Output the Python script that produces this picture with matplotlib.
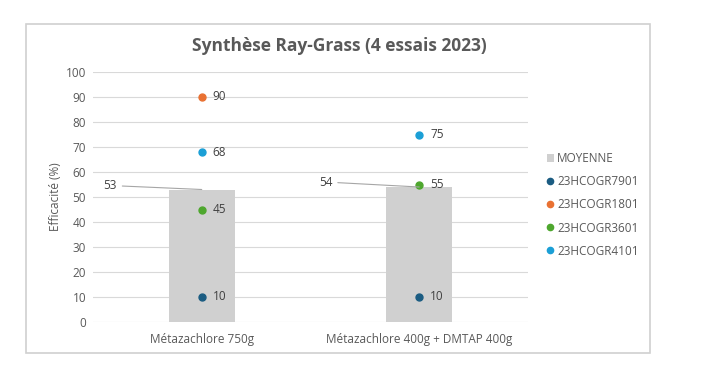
import matplotlib.pyplot as plt
from matplotlib.patches import Rectangle

plt.rcParams['font.family'] = ['Open Sans', 'DejaVu Sans']

categories = ['Métazachlore 750g', 'Métazachlore 400g + DMTAP 400g']
moyenne = [53, 54]
essais = ['23HCOGR7901', '23HCOGR1801', '23HCOGR3601', '23HCOGR4101']
valeurs = {
    '23HCOGR7901': [10, 10],
    '23HCOGR1801': [90, None],
    '23HCOGR3601': [45, 55],
    '23HCOGR4101': [68, 75],
}
couleurs = {
    '23HCOGR7901': '#1B5C82',
    '23HCOGR1801': '#E97132',
    '23HCOGR3601': '#4EA72E',
    '23HCOGR4101': '#1B9FD6',
}

fig = plt.figure(figsize=(7.09, 3.79), dpi=100)
# cadre du graphique
fig.patches.append(Rectangle((26 / 709, 1 - 353 / 379), 624 / 709, 329 / 379,
                             transform=fig.transFigure, fill=False,
                             edgecolor='#D0D0D0', linewidth=1.2))

ax = fig.add_axes([93 / 709, 1 - 322 / 379, 435 / 709, 250 / 379])
x = list(range(len(categories)))

ax.bar(x, moyenne, width=66 / 217.5, color='#D0D0D0', label='MOYENNE', zorder=2)

# étiquettes de la moyenne avec ligne de rappel
decal = [(-85, 4), (-87, 5)]
for i, m in enumerate(moyenne):
    ax.annotate(str(m), xy=(i, m), xytext=decal[i], textcoords='offset pixels',
                ha='right', va='center', fontsize=8.5, color='#404040',
                arrowprops=dict(arrowstyle='-', color='#A6A6A6', lw=0.8,
                                shrinkA=2, shrinkB=0), zorder=4)

for e in essais:
    xs = [i for i, v in zip(x, valeurs[e]) if v is not None]
    ys = [v for v in valeurs[e] if v is not None]
    ax.plot(xs, ys, linestyle='none', marker='o', markersize=5,
            color=couleurs[e], label=e, zorder=3)
    for xi, yi in zip(xs, ys):
        ax.annotate(str(yi), xy=(xi, yi), xytext=(11, 0), textcoords='offset pixels',
                    ha='left', va='center', fontsize=8.5, color='#404040')

ax.set_xlim(-0.5, 1.5)
ax.set_ylim(0, 100)
ax.set_yticks(range(0, 101, 10))
ax.set_xticks(x)
ax.set_xticklabels(categories)
ax.tick_params(length=0, labelsize=8.5, labelcolor='#595959')
ax.tick_params(axis='y', pad=5)
ax.tick_params(axis='x', pad=8)
ax.grid(axis='y', color='#D9D9D9', linewidth=0.8, zorder=0)
ax.set_axisbelow(True)
for s in ax.spines.values():
    s.set_visible(False)

ax.set_ylabel('Efficacité (%)', fontsize=8.5, color='#595959', labelpad=3)
fig.text(339 / 709, 1 - 46 / 379, 'Synthèse Ray-Grass (4 essais 2023)',
         ha='center', va='center', fontsize=12.5, fontweight='bold', color='#595959')

handles, labels = ax.get_legend_handles_labels()
ordre = [labels.index('MOYENNE')] + [labels.index(e) for e in essais]
fig.legend([handles[i] for i in ordre], [labels[i] for i in ordre],
           loc='center left', bbox_to_anchor=(542 / 709, 1 - 205 / 379), frameon=False,
           fontsize=8.5, labelcolor='#595959', handlelength=0.6, handletextpad=0.3,
           labelspacing=0.85, markerscale=0.9, borderaxespad=0)

fig.savefig('out.png', dpi=100)
